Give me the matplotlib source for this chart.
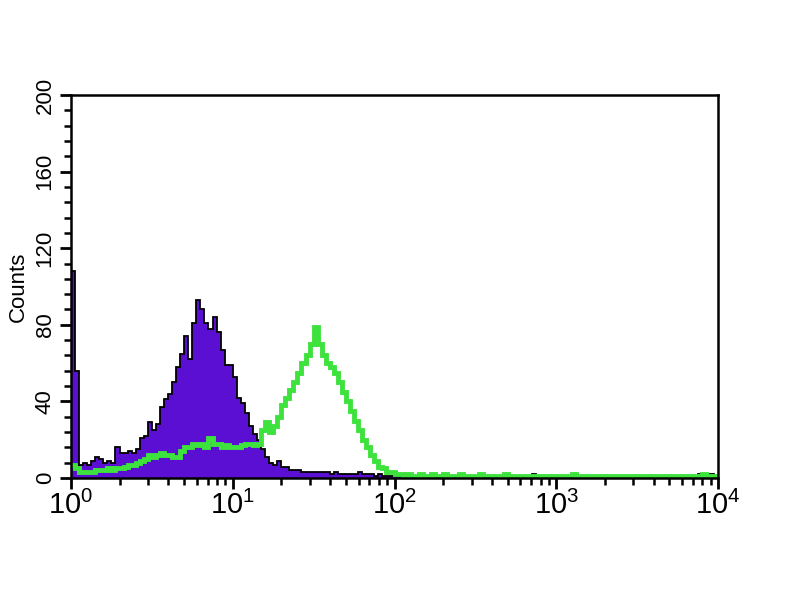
import numpy as np
import matplotlib
matplotlib.use('Agg')
import matplotlib.pyplot as plt
from matplotlib.ticker import FixedLocator, MultipleLocator, LogLocator, NullFormatter

plt.rcParams['font.family'] = ['Liberation Sans', 'DejaVu Sans']
plt.rcParams['mathtext.fontset'] = 'custom'
plt.rcParams['mathtext.rm'] = 'Liberation Sans'
plt.rcParams['mathtext.it'] = 'Liberation Sans'

# histogram channels, 40 per decade, from 10^0 to 10^4
CHANNELS_PER_DECADE = 40
N_DECADES = 4

# isotype control (filled purple)
control_counts = [
    108, 56, 7, 8, 7, 9, 11, 10, 8, 9,
    8, 16, 13, 13, 14, 13, 15, 21, 22, 29,
    25, 28, 37, 41, 44, 50, 58, 65, 74, 62,
    81, 93, 88, 81, 78, 84, 76, 67, 59, 59,
    53, 42, 39, 34, 27, 23, 20, 15, 11, 8,
    7, 9, 6, 6, 4, 4, 4, 3, 3, 3,
    3, 3, 3, 3, 2, 3, 2, 2, 2, 2,
    2, 3, 2, 2, 2, 1, 2, 1, 1, 1,
    1, 1, 0, 1, 1, 0, 1, 0, 1, 0,
    0, 1, 0, 0, 1, 0, 0, 0, 1, 0,
    0, 0, 0, 0, 0, 0, 0, 0, 0, 0,
    0, 0, 0, 0, 2, 0, 0, 0, 0, 0,
    0, 0, 0, 0, 0, 0, 0, 0, 0, 0,
    0, 0, 0, 0, 0, 0, 0, 0, 0, 0,
    0, 0, 0, 0, 0, 0, 0, 0, 0, 0,
    0, 0, 0, 0, 0, 2, 0, 0, 2, 0,
]

# stained sample (green outline)
sample_counts = [
    7, 5, 3, 3, 3, 3, 4, 4, 4, 5,
    4, 5, 5, 6, 7, 7, 8, 9, 10, 12,
    11, 12, 13, 12, 12, 11, 11, 14, 16, 16,
    18, 17, 18, 16, 21, 18, 18, 16, 17, 16,
    16, 16, 17, 18, 18, 17, 18, 25, 29, 24,
    27, 32, 38, 42, 46, 50, 55, 60, 64, 70,
    79, 70, 64, 60, 58, 55, 50, 45, 40, 35,
    30, 25, 20, 16, 12, 9, 6, 5, 3, 3,
    2, 2, 1, 2, 1, 1, 2, 1, 1, 2,
    1, 1, 2, 1, 1, 1, 2, 1, 1, 1,
    1, 2, 1, 1, 1, 1, 1, 2, 1, 1,
    1, 1, 1, 1, 1, 1, 1, 1, 1, 1,
    1, 1, 1, 1, 2, 1, 1, 1, 1, 1,
    1, 1, 1, 1, 1, 1, 1, 1, 1, 1,
    1, 1, 1, 1, 1, 1, 1, 1, 1, 1,
    1, 1, 1, 1, 1, 1, 2, 1, 1, 1,
]

y_ticks = [0, 40, 80, 120, 160, 200]
x_ticks = [1, 10, 100, 1000, 10000]
x_labels = ['$10^{0}$', '$10^{1}$', '$10^{2}$', '$10^{3}$', '$10^{4}$']

edges = 10.0 ** (np.arange(CHANNELS_PER_DECADE * N_DECADES + 1) / CHANNELS_PER_DECADE)

fig = plt.figure(figsize=(8, 6), dpi=100)
ax = fig.add_axes([0.08875, 0.2033, 0.80875, 0.6384])

ax.stairs(control_counts, edges, fill=True, facecolor='#5a0fd2',
          edgecolor='black', linewidth=1.3, baseline=0)
ax.stairs(sample_counts, edges, color='#3de23d', linewidth=3.5, baseline=None)

ax.set_xscale('log')
ax.set_xlim(1, 10000)
ax.set_ylim(0, 200)

ax.xaxis.set_major_locator(FixedLocator(x_ticks))
ax.set_xticks(x_ticks)
ax.set_xticklabels(x_labels, fontsize=21)
ax.xaxis.set_minor_locator(LogLocator(base=10, subs=np.arange(2, 10)))
ax.xaxis.set_minor_formatter(NullFormatter())

ax.set_yticks(y_ticks)
ax.set_yticklabels([str(v) for v in y_ticks], fontsize=16, rotation=90, va='center')
ax.yaxis.set_minor_locator(MultipleLocator(8))

ax.tick_params(axis='both', which='major', direction='out', length=8, width=2,
               color='black')
ax.tick_params(axis='both', which='minor', direction='out', length=5, width=1.8,
               color='black')
ax.tick_params(axis='x', which='major', pad=1)
ax.tick_params(axis='y', which='major', pad=3)

for side in ax.spines.values():
    side.set_linewidth(1.8)
    side.set_color('black')

ax.set_ylabel('Counts', fontsize=16, labelpad=4)

fig.savefig('out.png', dpi=100)
